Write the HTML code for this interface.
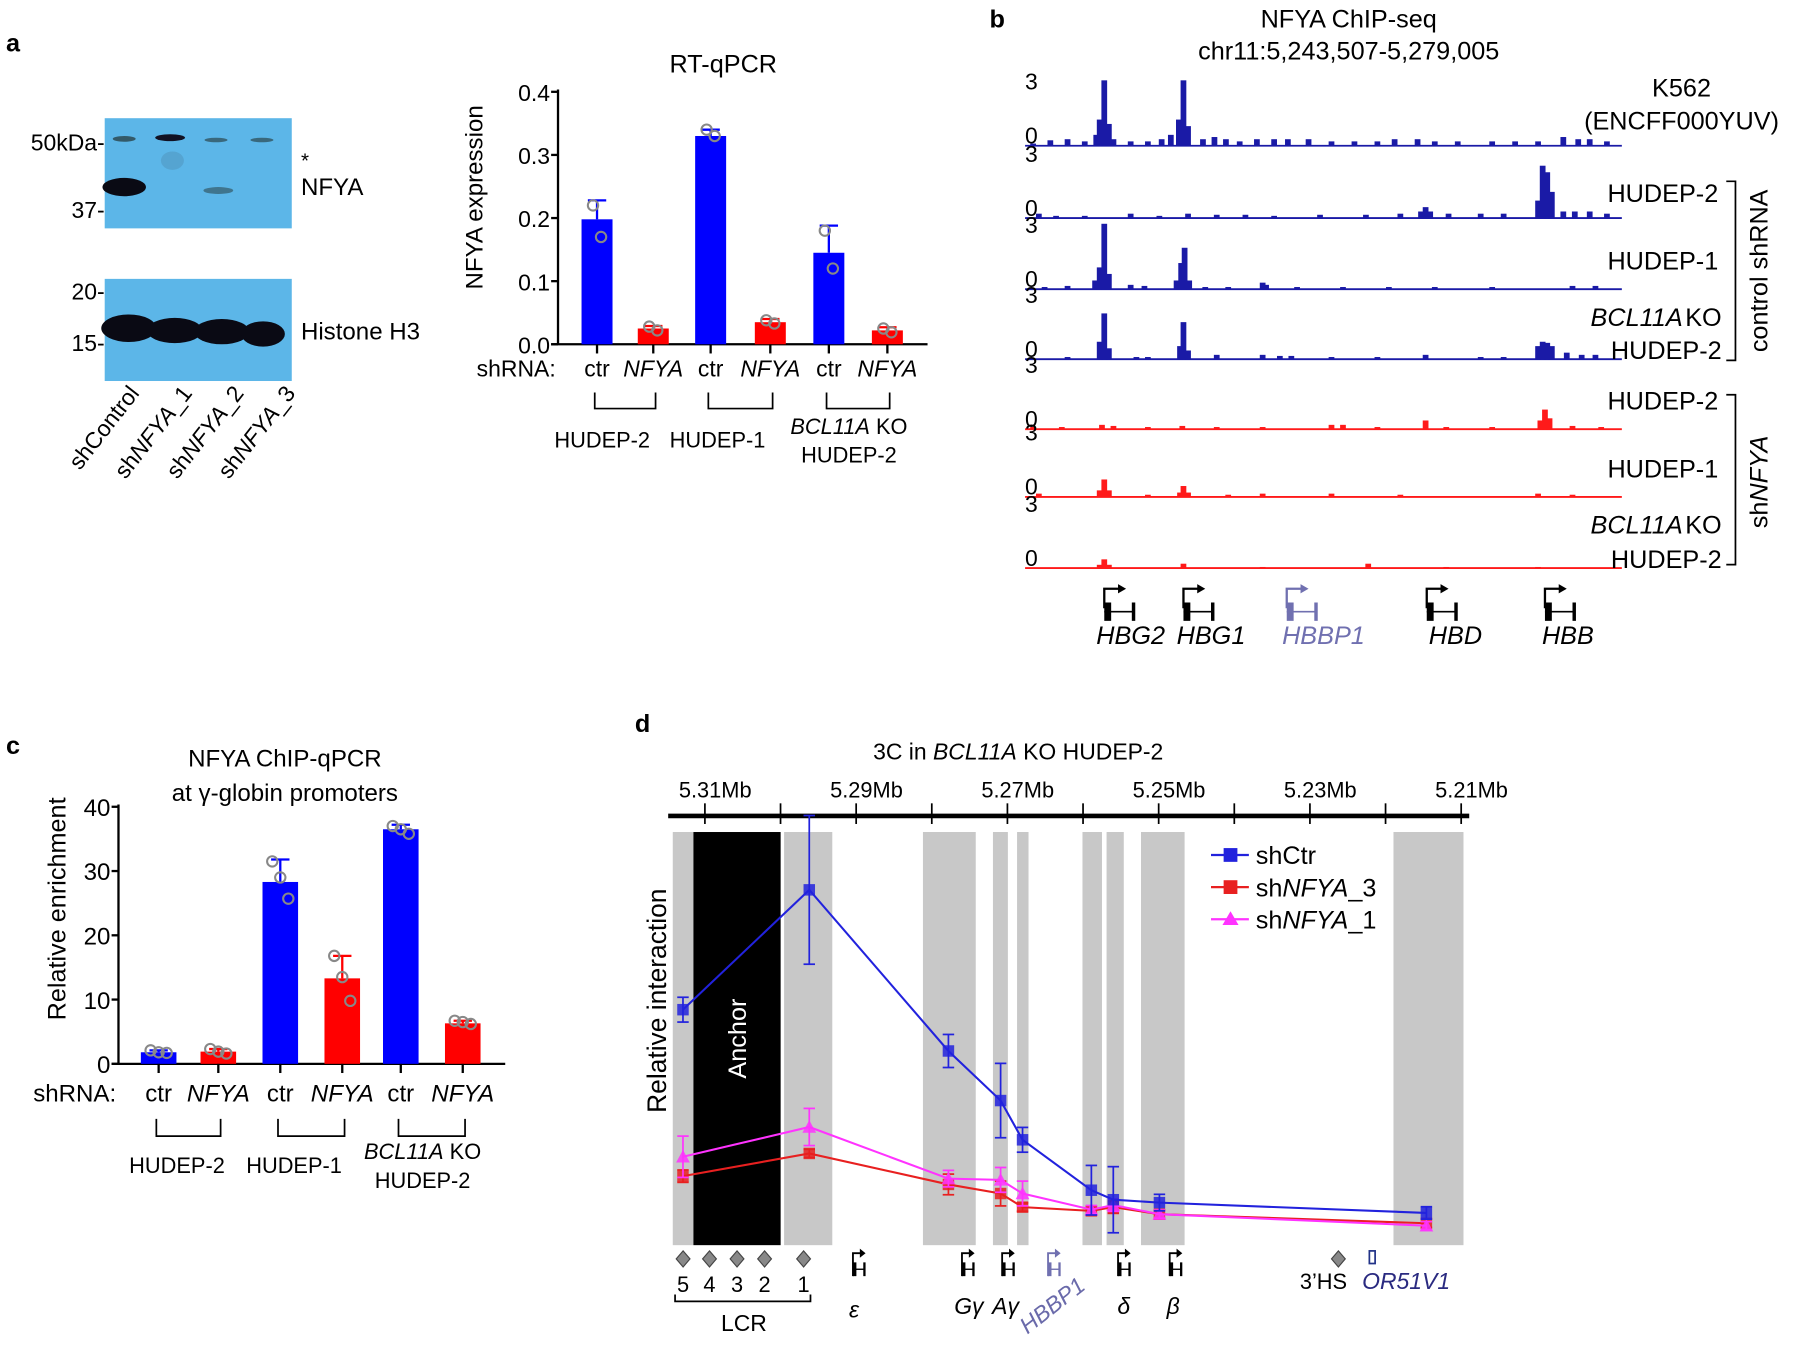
<!DOCTYPE html>
<html><head><meta charset="utf-8"><style>
html,body{margin:0;padding:0;background:#fff;}
svg{display:block;font-family:"Liberation Sans",Arial,sans-serif;}
</style></head><body>
<svg id="fig" width="1800" height="1345" viewBox="0 0 1568 1172" xmlns="http://www.w3.org/2000/svg">
<g id="pa">
<text x="5" y="45" font-size="22" font-weight="bold">a</text>
<rect x="91" y="103" width="163" height="96" fill="#5cb6e8"/>
<ellipse cx="108" cy="121" rx="10" ry="2.5" fill="#233" opacity="0.7"/>
<ellipse cx="148" cy="120" rx="13" ry="3" fill="#112"/>
<ellipse cx="188" cy="122" rx="10" ry="2" fill="#233" opacity="0.6"/>
<ellipse cx="228" cy="122" rx="10" ry="2" fill="#233" opacity="0.6"/>
<ellipse cx="108" cy="163" rx="19" ry="8" fill="#0a0a14"/>
<ellipse cx="190" cy="166" rx="13" ry="3" fill="#233" opacity="0.5"/>
<ellipse cx="150" cy="140" rx="10" ry="8" fill="#4a8ab0" opacity="0.4"/>
<rect x="91" y="243" width="163" height="89" fill="#5cb6e8"/>
<ellipse cx="112" cy="286" rx="24" ry="12" fill="#0a0a14"/>
<ellipse cx="152" cy="288" rx="24" ry="11" fill="#0a0a14"/>
<ellipse cx="193" cy="289" rx="24" ry="11" fill="#0a0a14"/>
<ellipse cx="229" cy="291" rx="19" ry="11" fill="#0a0a14"/>
<g font-size="20" text-anchor="end">
<text x="91" y="131">50kDa-</text>
<text x="91" y="190">37-</text>
<text x="91" y="261">20-</text>
<text x="91" y="306">15-</text>
</g>
<text x="262" y="146" font-size="18">*</text>
<text x="262" y="170" font-size="21">NFYA</text>
<text x="262" y="296" font-size="21">Histone H3</text>
<g font-size="20" text-anchor="end">
<text transform="translate(122,343) rotate(-52)">shControl</text>
<text transform="translate(168,343) rotate(-52)">sh<tspan font-style="italic">NFYA</tspan>_1</text>
<text transform="translate(213,343) rotate(-52)">sh<tspan font-style="italic">NFYA</tspan>_2</text>
<text transform="translate(258,343) rotate(-52)">sh<tspan font-style="italic">NFYA</tspan>_3</text>
</g>
<g id="chartA"></g>
</g>
<g id="pb">
<text x="862" y="24" font-size="22" font-weight="bold">b</text>
<text x="1175" y="24" font-size="22" text-anchor="middle">NFYA ChIP-seq</text>
<text x="1175" y="52" font-size="22" text-anchor="middle">chr11:5,243,507-5,279,005</text>
<g id="tracks"></g>
</g>
<g id="pc">
<text x="5" y="657" font-size="22" font-weight="bold">c</text>
<g id="chartC"></g>
</g>
<g id="pd">
<text x="553" y="638" font-size="22" font-weight="bold">d</text>
<g id="chartD"></g>
</g>
</svg>
<script>
const NS="http://www.w3.org/2000/svg";
// ---------- Panel a data ----------
const aCats=["ctr","NFYA","ctr","NFYA","ctr","NFYA"];
const aVals=[0.198,0.025,0.330,0.035,0.145,0.022];
const aErr=[0.030,0.004,0.010,0.005,0.043,0.005];
const aPts=[[0.22,0.17],[0.028,0.022],[0.34,0.33],[0.038,0.033],[0.18,0.12],[0.025,0.019]];
const aTicks=[0.0,0.1,0.2,0.3,0.4];
const aGroups=[["HUDEP-2"],["HUDEP-1"],["BCL11A KO","HUDEP-2"]];
// ---------- Panel c data ----------
const cCats=["ctr","NFYA","ctr","NFYA","ctr","NFYA"];
const cVals=[1.8,1.9,28.3,13.3,36.5,6.3];
const cErr=[0.3,0.4,3.5,3.5,0.7,0.4];
const cPts=[[2.1,1.8,1.7],[2.3,1.9,1.6],[31.5,29.0,25.7],[16.8,13.5,9.8],[37.0,36.5,35.8],[6.7,6.5,6.2]];
const cTicks=[0,10,20,30,40];
// ---------- Panel d data ----------
const dMb=[5.3129,5.2962,5.2778,5.2709,5.2680,5.2589,5.2560,5.2499,5.2146];
const dCtr=[5.7,8.6,4.7,3.5,2.55,1.33,1.1,1.03,0.78];
const dCtrErr=[0.3,1.8,0.4,0.9,0.3,0.6,0.8,0.2,0.15];
const dN3=[1.67,2.22,1.47,1.25,0.92,0.83,0.92,0.75,0.53];
const dN3Err=[0.15,0.1,0.25,0.3,0.1,0.1,0.15,0.1,0.1];
const dN1=[2.14,2.86,1.61,1.58,1.25,0.86,0.97,0.75,0.47];
const dN1Err=[0.5,0.45,0.2,0.3,0.3,0.1,0.15,0.1,0.1];
const dTicksMb=[5.31,5.30,5.29,5.28,5.27,5.26,5.25,5.24,5.23,5.22,5.21];
const dLabelMb=[5.31,5.29,5.27,5.25,5.23,5.21];
// ---------- Panel b data ----------
const trK562=[[900,0.1],[915,0.25],[930,0.3],[945,0.2],[955,0.5],[958,1.2],[962,3.0],[966,1.0],[970,0.3],[985,0.2],[1000,0.2],[1012,0.3],[1020,0.5],[1027,1.2],[1031,3.0],[1035,0.9],[1048,0.3],[1058,0.4],[1068,0.3],[1080,0.2],[1095,0.3],[1110,0.3],[1122,0.3],[1140,0.3],[1160,0.2],[1180,0.2],[1200,0.2],[1215,0.3],[1235,0.3],[1250,0.2],[1270,0.2],[1300,0.2],[1320,0.2],[1340,0.2],[1362,0.4],[1375,0.3],[1385,0.3],[1400,0.2]];
const trH2=[[905,0.2],[920,0.1],[945,0.1],[985,0.2],[1010,0.1],[1035,0.2],[1060,0.15],[1085,0.15],[1110,0.1],[1150,0.15],[1190,0.15],[1220,0.2],[1238,0.3],[1242,0.5],[1246,0.3],[1262,0.2],[1290,0.2],[1310,0.2],[1340,0.8],[1344,2.4],[1348,2.1],[1352,1.2],[1362,0.3],[1372,0.3],[1385,0.3],[1400,0.2]];
const trH1=[[910,0.1],[930,0.15],[954,0.4],[958,1.0],[962,3.0],[966,0.7],[985,0.2],[997,0.15],[1025,0.4],[1029,1.2],[1032,1.9],[1036,0.4],[1050,0.1],[1070,0.1],[1100,0.3],[1103,0.2],[1130,0.1],[1170,0.1],[1210,0.1],[1250,0.1],[1300,0.1],[1370,0.15],[1390,0.15]];
const trBK=[[930,0.1],[958,0.8],[962,2.1],[966,0.5],[990,0.1],[1000,0.1],[1028,0.6],[1031,1.7],[1035,0.4],[1060,0.2],[1100,0.2],[1115,0.15],[1125,0.15],[1160,0.1],[1200,0.1],[1242,0.2],[1290,0.1],[1310,0.1],[1340,0.6],[1344,0.8],[1348,0.75],[1352,0.6],[1365,0.3],[1378,0.2],[1390,0.2]];
const trRH2=[[900,0.1],[925,0.1],[960,0.2],[970,0.15],[1000,0.1],[1030,0.15],[1060,0.1],[1100,0.1],[1160,0.2],[1170,0.2],[1200,0.1],[1242,0.4],[1260,0.1],[1300,0.1],[1342,0.4],[1346,0.9],[1350,0.5],[1370,0.15],[1395,0.1]];
const trRH1=[[905,0.15],[958,0.3],[962,0.8],[966,0.3],[1000,0.1],[1028,0.2],[1031,0.5],[1035,0.2],[1070,0.1],[1100,0.15],[1160,0.15],[1220,0.1],[1340,0.15],[1370,0.1]];
const trRBK=[[958,0.15],[962,0.4],[966,0.15],[1031,0.2],[1100,0.05],[1192,0.2],[1260,0.05],[1340,0.05]];

function el(tag,attrs,parent,txt){const e=document.createElementNS(NS,tag);for(const k in attrs)e.setAttribute(k,attrs[k]);if(txt!==undefined)e.textContent=txt;parent.appendChild(e);return e;}

function barChart(g,opt){
  const y=v=>opt.y0-(v-opt.vmin)/(opt.vmax-opt.vmin)*(opt.y0-opt.y1);
  let e=el("line",{x1:opt.ax,y1:opt.y1-2,x2:opt.ax,y2:opt.y0,stroke:"#000","stroke-width":2},g);
  
  
  e=el("line",{x1:opt.ax-6,y1:opt.y0,x2:opt.xend,y2:opt.y0,stroke:"#000","stroke-width":2},g);
  
  
  opt.ticks.forEach(t=>{
    el("line",{x1:opt.ax-6,y1:y(t),x2:opt.ax,y2:y(t),stroke:"#000","stroke-width":2},g);
    const tx=el("text",{x:opt.ax-7,y:y(t)+8,"font-size":opt.fs,"text-anchor":"end"},g,opt.fmt(t));
    
    
  });
  opt.vals.forEach((v,i)=>{
    const cx=opt.cx[i],col=i%2?"#ff0000":"#0000ff";
    const r=el("rect",{x:cx-opt.bw/2,y:y(v),width:opt.bw,height:opt.y0-y(v),fill:col},g);
    
    
    el("line",{x1:cx,y1:y(v),x2:cx,y2:y(v+opt.err[i]),stroke:col,"stroke-width":2},g);
    el("line",{x1:cx-8,y1:y(v+opt.err[i]),x2:cx+8,y2:y(v+opt.err[i]),stroke:col,"stroke-width":2},g);
    el("line",{x1:cx,y1:opt.y0,x2:cx,y2:opt.y0+8,stroke:"#000","stroke-width":2},g);
    const n=opt.pts[i].length;
    opt.pts[i].forEach((p,k)=>{
      const c=el("circle",{cx:cx+(k-(n-1)/2)*7,cy:y(p),r:4.5,fill:"none",stroke:"#888","stroke-width":1.8},g);
      
      
    });
    const lt=el("text",{x:cx,y:opt.ly,"font-size":opt.fs,"text-anchor":"middle","font-style":i%2?"italic":"normal"},g,opt.cats[i]);
    
    
  });
  const sh=el("text",{x:opt.shx,y:opt.ly,"font-size":opt.fs,"text-anchor":"end"},g,"shRNA:");
  
  
  for(let k=0;k<3;k++){
    const a=opt.cx[2*k]-2,b=opt.cx[2*k+1]+2;
    const br=el("path",{d:`M${a} ${opt.by0}V${opt.by1}H${b}V${opt.by0}`,fill:"none",stroke:"#000","stroke-width":1.5},g);
    
    
    const mx=(opt.cx[2*k]+opt.cx[2*k+1])/2+opt.goff[k];
    if(k<2){
      const t=el("text",{x:mx,y:opt.gy,"font-size":opt.gfs,"text-anchor":"middle"},g,aGroups[k][0]);
      
      
    }else{
      const t=el("text",{x:mx,y:opt.gy-12,"font-size":opt.gfs,"text-anchor":"middle"},g);
      
      
      el("tspan",{"font-style":"italic"},t,"BCL11A");
      el("tspan",{},t," KO");
      const t2=el("text",{x:mx,y:opt.gy+13,"font-size":opt.gfs,"text-anchor":"middle"},g,aGroups[k][1]);
      
      
    }
  }
  const tt=el("text",{transform:`translate(${opt.ylx},${opt.yly}) rotate(-90)`,"font-size":opt.ylfs,"text-anchor":"middle"},g,opt.ylabel);
  
  
  opt.title.forEach((s,i)=>{
    const t=el("text",{x:opt.tx,y:opt.ty+i*30,"font-size":opt.tfs,"text-anchor":"middle"},g,s);
    
    
  });
}
barChart(document.getElementById("chartA"),{ax:486,y0:300,y1:80,vmin:0,vmax:0.4,xend:808,ticks:aTicks,fmt:t=>t.toFixed(1),fs:20,
 vals:aVals,err:aErr,pts:aPts,cats:aCats,cx:[520,569,619,671,722,773],bw:27,ly:328,shx:484,by0:342,by1:356,gy:390,gfs:19,goff:[-20,-20,-8],
 ylabel:"NFYA expression",ylx:420,yly:172,ylfs:21,title:["RT-qPCR"],tx:630,ty:63,tfs:22});
barChart(document.getElementById("chartC"),{ax:103,y0:927,y1:703,vmin:0,vmax:40,xend:440,ticks:cTicks,fmt:t=>String(t),fs:21,
 vals:cVals,err:cErr,pts:cPts,cats:cCats,cx:[138,190,244,298,349,403],bw:31,ly:960,shx:101,by0:975,by1:990,gy:1022,gfs:19,goff:[-10,-15,-8],
 ylabel:"Relative enrichment",ylx:57,yly:792,ylfs:22,title:["NFYA ChIP-qPCR","at γ-globin promoters"],tx:248,ty:668,tfs:21});

(function(){
  const g=document.getElementById("tracks");
  const tracks=[[trK562,127,"#1a1aa6"],[trH2,190,"#1a1aa6"],[trH1,252,"#1a1aa6"],[trBK,313,"#1a1aa6"],[trRH2,374,"#ff1a1a"],[trRH1,433,"#ff1a1a"],[trRBK,495,"#ff1a1a"]];
  const sc=19;
  tracks.forEach((t,i)=>{
    const [data,base,col]=t;
    const tg=el("g",{},g);
    
    
    el("line",{x1:893,y1:base,x2:1413,y2:base,stroke:col,"stroke-width":1.6},tg);
    data.forEach(d=>{
      const r=el("rect",{x:d[0]-2.5,y:base-d[1]*sc,width:5,height:d[1]*sc,fill:col},tg);
      
      
    });
    const l3=el("text",{x:904,y:base-57+8,"font-size":20,"text-anchor":"end"},g,"3");
    
    
    const l0=el("text",{x:904,y:base-2,"font-size":20,"text-anchor":"end"},g,"0");
    
    
  });
  const labs=[["K562",1465,84,"middle"],["(ENCFF000YUV)",1465,113,"middle"],["HUDEP-2",1497,176,"end"],["HUDEP-1",1497,235,"end"],["KO",1500,284,"end"],["HUDEP-2",1500,313,"end"],["HUDEP-2",1497,357,"end"],["HUDEP-1",1497,416,"end"],["KO",1500,465,"end"],["HUDEP-2",1500,495,"end"]];
  labs.forEach(l=>{const t=el("text",{x:l[1],y:l[2],"font-size":22,"text-anchor":l[3]},g,l[0]);
    
    });
  [[1466,284],[1466,465]].forEach(p=>{const t=el("text",{x:p[0],y:p[1],"font-size":22,"text-anchor":"end","font-style":"italic"},g,"BCL11A");
    
    });
  el("path",{d:"M1504 158H1512V314H1504",fill:"none",stroke:"#000","stroke-width":1.5},g);
  el("path",{d:"M1504 344H1512V492H1504",fill:"none",stroke:"#000","stroke-width":1.5},g);
  let t=el("text",{transform:"translate(1540,236) rotate(-90)","font-size":22,"text-anchor":"middle"},g,"control shRNA");
  
  
  t=el("text",{transform:"translate(1540,420) rotate(-90)","font-size":22,"text-anchor":"middle"},g);
  
  
  el("tspan",{},t,"sh");el("tspan",{"font-style":"italic"},t,"NFYA");
  const genes=[["HBG2",962,985,"#000"],["HBG1",1031,1055,"#000"],["HBBP1",1121,1153,"#7070b0"],["HBD",1243,1268,"#000"],["HBB",1346,1366,"#000"]];
  genes.forEach(gn=>{
    const gg=el("g",{},g);
    
    
    const x=gn[1],c=gn[3];
    el("path",{d:`M${x} 530V513H${x+14}`,fill:"none",stroke:c,"stroke-width":2},gg);
    el("path",{d:`M${x+12} 509L${x+19} 513L${x+12} 517Z`,fill:c},gg);
    el("line",{x1:x,y1:533,x2:x+26,y2:533,stroke:c,"stroke-width":1.5},gg);
    el("rect",{x:x,y:525,width:6,height:16,fill:c},gg);
    el("rect",{x:x+24,y:525,width:3,height:16,fill:c},gg);
    el("text",{x:gn[2],y:561,"font-size":22,"font-style":"italic","text-anchor":"middle",fill:c},gg,gn[0]);
  });
})();

(function(){
  const g=document.getElementById("chartD");
  const X=mb=>614+(5.31-mb)/0.01*65.9;
  const yb=1085,yt=725,Y=v=>yb-v*36;
  const title=el("text",{x:887,y:662,"font-size":20,"text-anchor":"middle"},g);
  
  
  el("tspan",{},title,"3C in ");el("tspan",{"font-style":"italic"},title,"BCL11A");el("tspan",{},title," KO HUDEP-2");
  const shades=[[586,604],[683,725],[804,850],[865,878],[886,896],[943,960],[964,979],[994,1032],[1214,1275]];
  shades.forEach(s=>{const r=el("rect",{x:s[0],y:yt,width:s[1]-s[0],height:yb-yt,fill:"#c8c8c8"},g);
    
    });
  const an=el("rect",{x:604,y:yt,width:76,height:yb-yt,fill:"#000"},g);
  
  
  const at=el("text",{transform:"translate(650,905) rotate(-90)","font-size":22,fill:"#fff","text-anchor":"middle"},g,"Anchor");
  
  
  const ax=el("line",{x1:582,y1:711,x2:1280,y2:711,stroke:"#000","stroke-width":4},g);
  
  
  dTicksMb.forEach(m=>el("line",{x1:X(m),y1:700,x2:X(m),y2:718,stroke:"#000","stroke-width":1.5},g));
  dLabelMb.forEach(m=>{const t=el("text",{x:X(m)+9,y:695,"font-size":19,"text-anchor":"middle"},g,m.toFixed(2)+"Mb");
    
    });
  const yl=el("text",{transform:"translate(580,872) rotate(-90)","font-size":23,"text-anchor":"middle"},g,"Relative interaction");
  
  
  const series=[[dN3,dN3Err,"#e82020","sq","shNFYA_3"],[dN1,dN1Err,"#ff33ff","tri","shNFYA_1"],[dCtr,dCtrErr,"#2222dd","sq","shCtr"]];
  series.forEach(s=>{
    const [vals,err,col,mk,name]=s;
    const sg=el("g",{},g);
    
    
    el("polyline",{points:vals.map((v,i)=>X(dMb[i])+","+Y(v)).join(" "),fill:"none",stroke:col,"stroke-width":1.8},sg);
    vals.forEach((v,i)=>{
      const x=X(dMb[i]);
      el("line",{x1:x,y1:Y(v-err[i]),x2:x,y2:Y(v+err[i]),stroke:col,"stroke-width":1.5},sg);
      el("line",{x1:x-5,y1:Y(v-err[i]),x2:x+5,y2:Y(v-err[i]),stroke:col,"stroke-width":1.5},sg);
      el("line",{x1:x-5,y1:Y(v+err[i]),x2:x+5,y2:Y(v+err[i]),stroke:col,"stroke-width":1.5},sg);
      let m;
      if(mk==="sq") m=el("rect",{x:x-5,y:Y(v)-5,width:10,height:10,fill:col,opacity:0.85},sg);
      else m=el("path",{d:`M${x} ${Y(v)-6}L${x+6} ${Y(v)+5}L${x-6} ${Y(v)+5}Z`,fill:col,opacity:0.85},sg);
      
      
    });
  });
  const leg=[["#2222dd","sq","shCtr",745],["#e82020","sq","shNFYA_3",773],["#ff33ff","tri","shNFYA_1",801]];
  leg.forEach(l=>{
    const lg=el("g",{},g);
    
    
    el("line",{x1:1055,y1:l[3],x2:1088,y2:l[3],stroke:l[0],"stroke-width":2},lg);
    if(l[1]==="sq") el("rect",{x:1066,y:l[3]-6,width:12,height:12,fill:l[0]},lg);
    else el("path",{d:`M1072 ${l[3]-7}L1079 ${l[3]+5}L1065 ${l[3]+5}Z`,fill:l[0]},lg);
    const t=el("text",{x:1094,y:l[3]+8,"font-size":22},lg);
    if(l[2]==="shCtr") t.textContent="shCtr";
    else{el("tspan",{},t,"sh");el("tspan",{"font-style":"italic"},t,"NFYA");el("tspan",{},t,l[2].slice(6));}
  });
  const hs=[[595,"5"],[618,"4"],[642,"3"],[666,"2"],[700,"1"]];
  hs.forEach(h=>{
    const d=el("path",{d:`M${h[0]} 1090L${h[0]+6} 1097L${h[0]} 1104L${h[0]-6} 1097Z`,fill:"#888",stroke:"#444","stroke-width":1},g);
    
    
    el("text",{x:h[0],y:1126,"font-size":19,"text-anchor":"middle"},g,h[1]);
  });
  el("path",{d:"M588 1128V1134H706V1128",fill:"none",stroke:"#000","stroke-width":1.5},g);
  let t=el("text",{x:648,y:1160,"font-size":20,"text-anchor":"middle"},g,"LCR");
  
  
  const gd=[[743,"ε","#000",744,1148],[838,"Gγ","#000",844,1145],[873,"Aγ","#000",876,1145],[913,"","#7070b0",0,0],[974,"δ","#000",979,1145],[1019,"β","#000",1022,1145]];
  gd.forEach(q=>{
    const x=q[0],c=q[2];
    const gg=el("g",{},g);
    
    
    el("path",{d:`M${x} 1112V1092H${x+7}`,fill:"none",stroke:c,"stroke-width":1.6},gg);
    el("path",{d:`M${x+6} 1088L${x+11} 1092L${x+6} 1096Z`,fill:c},gg);
    el("rect",{x:x,y:1100,width:3,height:12,fill:c},gg);
    el("line",{x1:x,y1:1106,x2:x+10,y2:1106,stroke:c,"stroke-width":1.2},gg);
    el("rect",{x:x+9,y:1100,width:2,height:12,fill:c},gg);
    if(q[1]) el("text",{x:q[3],y:q[4],"font-size":20,"font-style":"italic","text-anchor":"middle"},gg,q[1]);
  });
  t=el("text",{transform:"translate(895,1163) rotate(-38)","font-size":20,"font-style":"italic",fill:"#6a6aaa"},g,"HBBP1");
  
  
  el("path",{d:"M1166 1090L1172 1097L1166 1104L1160 1097Z",fill:"#888",stroke:"#444","stroke-width":1},g);
  t=el("text",{x:1153,y:1123,"font-size":19,"text-anchor":"middle"},g,"3’HS");
  
  
  el("rect",{x:1193,y:1090,width:5,height:11,fill:"none",stroke:"#223388","stroke-width":1.5},g);
  t=el("text",{x:1225,y:1123,"font-size":20,"font-style":"italic","text-anchor":"middle",fill:"#2a2a80"},g,"OR51V1");
  
  
})();
</script>
</body></html>
